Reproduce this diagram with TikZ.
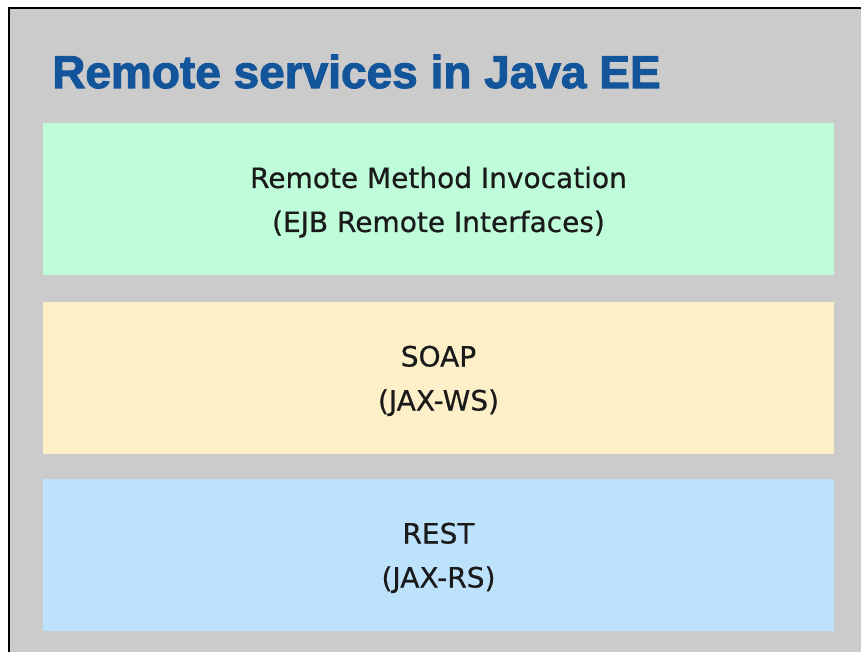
\documentclass[tikz,border=0pt]{standalone}
\usepackage{fontspec}
\setmainfont{DejaVu Sans}
\newfontfamily\headfont[FakeBold=2.2]{Liberation Sans Bold}
\newfontfamily\layerfont[FakeBold=0.6]{DejaVu Sans}
\definecolor{panelgray}{HTML}{CBCBCB}
\definecolor{titleblue}{HTML}{13559B}
\definecolor{mint}{HTML}{BEFCDA}
\definecolor{cream}{HTML}{FDF0C9}
\definecolor{skyblue}{HTML}{BDE3FC}
\definecolor{inktext}{HTML}{1A1A1A}
\begin{document}
\begin{tikzpicture}[x=1pt,y=-1pt,
  layer/.style={draw=none,minimum width=791pt,minimum height=152pt,inner sep=0pt},
  caption/.style={anchor=base,inner sep=0pt,text=inktext,
    font=\fontsize{28}{30}\layerfont},
  heading/.style={anchor=base west,inner sep=0pt,text=titleblue,
    font=\fontsize{46}{50}\headfont}]
  \useasboundingbox (0,0) rectangle (861,652);
  \fill[white] (0,0) rectangle (861,652);
  % slide background and its frame edges
  \fill[panelgray] (9,8) rectangle (861,652);
  \draw[line width=2pt,black] (9,652) -- (9,8) -- (861,8);
  % title
  \node[heading] (title) at (52,88) {Remote services in Java EE};
  % stacked service layers
  \node[layer,fill=mint] (rmi) at (438.5,199) {};
  \node[layer,fill=cream] (soap) at (438.5,377.5) {};
  \node[layer,fill=skyblue] (rest) at (438.5,554.5) {};
  % layer captions: two lines, 44pt apart, centred in each layer
  \node[caption] (rmiA) at ([yshift=11pt]rmi.center) {Remote Method Invocation};
  \node[caption] (rmiB) at ([yshift=-33pt]rmi.center) {(EJB Remote Interfaces)};
  \node[caption] (soapA) at ([yshift=11pt]soap.center) {SOAP};
  \node[caption] (soapB) at ([yshift=-33pt]soap.center) {(JAX-WS)};
  \node[caption] (restA) at ([yshift=11pt]rest.center) {REST};
  \node[caption] (restB) at ([yshift=-33pt]rest.center) {(JAX-RS)};
\end{tikzpicture}
\end{document}
